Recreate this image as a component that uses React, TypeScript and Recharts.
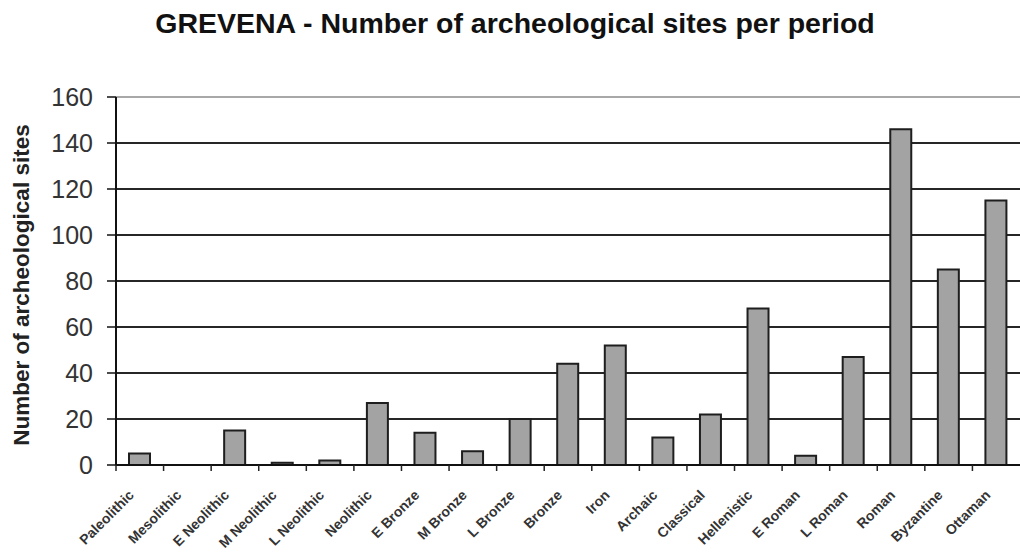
import React from 'react';
import { BarChart, Bar, XAxis, YAxis, CartesianGrid, ReferenceLine, Text } from 'recharts';

const periods = [
  'Paleolithic', 'Mesolithic', 'E Neolithic', 'M Neolithic', 'L Neolithic', 'Neolithic',
  'E Bronze', 'M Bronze', 'L Bronze', 'Bronze', 'Iron', 'Archaic', 'Classical',
  'Hellenistic', 'E Roman', 'L Roman', 'Roman', 'Byzantine', 'Ottaman'
];
const siteCounts = [5, 0, 15, 1, 2, 27, 14, 6, 20, 44, 52, 12, 22, 68, 4, 47, 146, 85, 115];
const yTicks = [0, 20, 40, 60, 80, 100, 120, 140, 160];

const chartData = periods.map((period, i) => ({ period, sites: siteCounts[i] }));

const W = 1020;
const H = 555;
const PLOT_LEFT = 116;
const FONT = '"Liberation Sans", Arial, sans-serif';
const bandWidth = (W - PLOT_LEFT) / periods.length;

const YTick = ({ x, y, payload }: any) => (
  <text x={x} y={y} dy={9} textAnchor="end" fontSize={25} fill="#333" fontFamily={FONT}>
    {payload.value}
  </text>
);

const XTick = ({ x, y, payload }: any) => (
  <g>
    {/* boundary tick between categories */}
    <line x1={x - bandWidth / 2} y1={y} x2={x - bandWidth / 2} y2={y + 6} stroke="#222" strokeWidth={1.5} />
    <Text
      x={x - 5}
      y={y + 31}
      angle={-45}
      textAnchor="end"
      verticalAnchor="end"
      fontSize={14}
      fontWeight="bold"
      fill="#333"
      fontFamily={FONT}
    >
      {payload.value}
    </Text>
  </g>
);

export default function App() {
  return (
    <div style={{ position: 'absolute', left: 0, top: 0, width: W, height: H, background: '#fff' }}>
      <BarChart width={W} height={H} data={chartData} margin={{ top: 97, right: 0, bottom: 0, left: 0 }}>
        <CartesianGrid vertical={false} stroke="#262626" strokeWidth={2} />
        <ReferenceLine y={160} stroke="#a8a8a8" strokeWidth={2} />
        <XAxis
          dataKey="period"
          interval={0}
          height={90}
          tickSize={0}
          tickMargin={0}
          tickLine={false}
          axisLine={{ stroke: '#111', strokeWidth: 2 }}
          tick={<XTick />}
        />
        <YAxis
          domain={[0, 160]}
          ticks={yTicks}
          width={PLOT_LEFT}
          tickSize={9}
          tickMargin={14}
          tickLine={{ stroke: '#111', strokeWidth: 1.5 }}
          axisLine={{ stroke: '#111', strokeWidth: 2 }}
          tick={<YTick />}
        />
        <Bar dataKey="sites" barSize={21} fill="#a3a3a3" stroke="#1e1e1e" strokeWidth={2} isAnimationActive={false} />
      </BarChart>
      <svg width={W} height={H} style={{ position: 'absolute', left: 0, top: 0, pointerEvents: 'none' }}>
        <text x={515} y={33} textAnchor="middle" fontSize={28.5} fontWeight="bold" fill="#111" fontFamily={FONT}>
          GREVENA - Number of archeological sites per period
        </text>
        <text
          x={29}
          y={285}
          transform="rotate(-90, 29, 285)"
          textAnchor="middle"
          fontSize={22.5}
          fontWeight="bold"
          fill="#222"
          fontFamily={FONT}
        >
          Number of archeological sites
        </text>
      </svg>
    </div>
  );
}
